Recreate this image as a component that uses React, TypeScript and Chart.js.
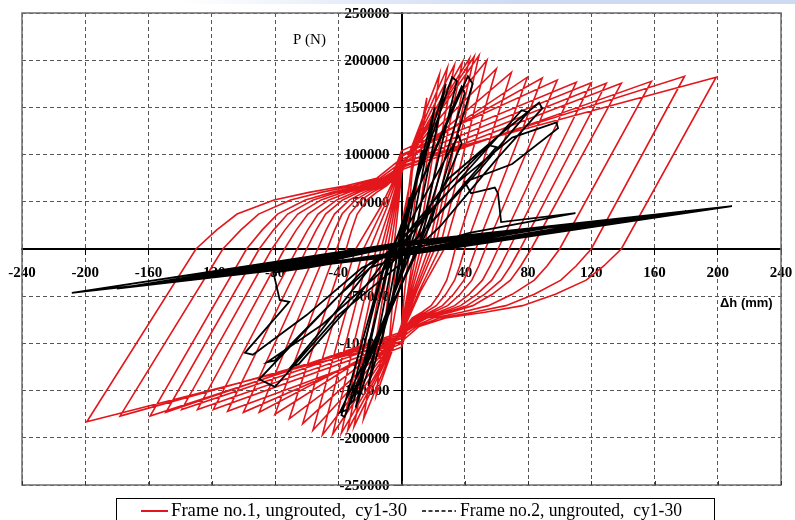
import React, { useEffect, useRef } from "react";
import { Chart, registerables } from "chart.js";

Chart.register(...registerables);

// ---- axis ticks & texts ----
const X_TICKS = [-240, -200, -160, -120, -80, -40, 0, 40, 80, 120, 160, 200, 240];
const Y_TICKS = [-250000, -200000, -150000, -100000, -50000, 0, 50000, 100000, 150000, 200000, 250000];
const Y_TITLE = "P (N)";
const X_TITLE = "Δh (mm)";
const LEGEND_1 = "Frame no.1, ungrouted,  cy1-30";
const LEGEND_2 = "Frame no.2, ungrouted,  cy1-30";

// ---- Frame no.1 (red) : displacement [mm], load [N] ----
const frame1: number[][] = [
  [0, 0], [8, 110000],
  [3, 0], [-8, -105000],
  [-3, 0], [16, 160000],
  [5, 0], [2, -45000], [0, -80000], [-16, -155000],
  [-5, 0], [-2, 45000], [0, 80000], [24, 185000],
  [8, 0], [4, -45000], [0, -82000], [-24, -180000],
  [-7, 0], [-3, 45000], [0, 82000], [29, 192000],
  [10, 0], [4.5, -45000], [0, -84000], [-30, -188000],
  [-9, 0], [-4, 45000], [0, 84000], [33.5, 195000],
  [12, 0], [5.5, -45000], [0, -85000], [-34, -192000],
  [-11, 0], [-5, 45000], [0, 85000], [38.5, 198000],
  [14, 0], [6.5, -45000], [0, -86000], [-38, -195000],
  [-13, 0], [-6, 45000], [0, 86000], [43, 202000],
  [17, 0], [7.5, -45000], [0, -87000], [-43.5, -196000],
  [-16, 0], [-7, 45000], [0, 87000], [46, 204000],
  [19, 0], [8.5, -45000], [0, -88000], [-50, -197000],
  [-20, 0], [-9, 45000], [0, 88000], [49, 205000],
  [21, 0], [9.5, -45000], [0, -89000], [-56, -192000],
  [-24, 0], [-11, 45000], [0, 89000], [54, 200000],
  [24, 0], [11, -45000], [0, -90000], [-62.5, -185000],
  [-29, 0], [-13, 45000], [0, 90000], [60, 191000],
  [27, 0], [12, -45000], [0, -90000], [-71, -180000],
  [-35, 0], [-31.5, 20000], [-28, 37000], [-21.7, 52000], [-15.8, 60000], [-9.5, 67000], [-4.2, 75000], [0, 88000], [69.5, 187000],
  [34, 0], [31.3, -18000], [28.6, -33000], [23.8, -48000], [18.7, -60000], [12.9, -67000], [6.8, -73000], [2.7, -82000], [0, -90000], [-80, -175000],
  [-41, 0], [-36.9, 20000], [-32.8, 37000], [-25.4, 52000], [-18.5, 60000], [-11.1, 67000], [-4.9, 75000], [0, 92000], [79.6, 182000],
  [40, 0], [36.8, -18000], [33.6, -33000], [28, -48000], [22, -60000], [15.2, -67000], [8, -73000], [3.2, -82000], [0, -94000], [-90, -173000],
  [-47, 0], [-42.3, 20000], [-37.6, 37000], [-29.1, 52000], [-21.2, 60000], [-12.7, 67000], [-5.6, 75000], [0, 98000], [89, 181000],
  [47, 0], [43.2, -18000], [39.5, -33000], [32.9, -48000], [25.9, -60000], [17.9, -67000], [9.4, -73000], [3.8, -82000], [0, -100000], [-100, -173000],
  [-53, 0], [-47.7, 20000], [-42.4, 37000], [-32.9, 52000], [-23.9, 60000], [-14.3, 67000], [-6.4, 75000], [0, 104000], [98.5, 179000],
  [53, 0], [48.8, -18000], [44.5, -33000], [37.1, -48000], [29.2, -60000], [20.1, -67000], [10.6, -73000], [4.2, -82000], [0, -104000], [-110, -172000],
  [-60, 0], [-54, 20000], [-48, 37000], [-37.2, 52000], [-27, 60000], [-16.2, 67000], [-7.2, 75000], [0, 100000], [110.5, 176500],
  [61, 0], [56.1, -18000], [51.2, -33000], [42.7, -48000], [33.6, -60000], [23.2, -67000], [12.2, -73000], [4.9, -82000], [0, -98000], [-119, -170000],
  [-66, 0], [-59.4, 20000], [-52.8, 37000], [-40.9, 52000], [-29.7, 60000], [-17.8, 67000], [-7.9, 75000], [0, 95000], [120, 176000],
  [68, 0], [62.6, -18000], [57.1, -33000], [47.6, -48000], [37.4, -60000], [25.8, -67000], [13.6, -73000], [5.4, -82000], [0, -95000], [-129, -170000],
  [-74, 0], [-66.6, 20000], [-59.2, 37000], [-45.9, 52000], [-33.3, 60000], [-20, 67000], [-8.9, 75000], [0, 90000], [129.5, 175500],
  [75, 0], [69, -18000], [63, -33000], [52.5, -48000], [41.3, -60000], [28.5, -67000], [15, -73000], [6, -82000], [0, -92000], [-139, -170000],
  [-82, 0], [-73.8, 20000], [-65.6, 37000], [-50.8, 52000], [-36.9, 60000], [-22.1, 67000], [-9.8, 75000], [0, 86000], [139, 175500],
  [82, 0], [75.4, -18000], [68.9, -33000], [57.4, -48000], [45.1, -60000], [31.2, -67000], [16.4, -73000], [6.6, -82000], [0, -88000], [-149, -173000],
  [-90, 0], [-81, 20000], [-72, 37000], [-55.8, 52000], [-40.5, 60000], [-24.3, 67000], [-10.8, 75000], [0, 84000], [158, 177600],
  [100, 0], [92, -18000], [84, -33000], [70, -48000], [55, -60000], [38, -67000], [20, -73000], [8, -82000], [0, -90000], [-159, -177000],
  [-98, 0], [-88.2, 20000], [-78.4, 37000], [-60.8, 52000], [-44.1, 60000], [-26.5, 67000], [-11.8, 75000], [0, 88000], [179, 183000],
  [120, 0], [110.4, -18000], [100.8, -33000], [84, -48000], [66, -60000], [45.6, -67000], [24, -73000], [9.6, -82000], [0, -94000], [-178, -177000],
  [-113, 0], [-101.7, 20000], [-90.4, 37000], [-70.1, 52000], [-50.9, 60000], [-30.5, 67000], [-13.6, 75000], [0, 92000], [199, 182000],
  [139, 0], [127.9, -18000], [116.8, -33000], [97.3, -48000], [76.5, -60000], [52.8, -67000], [27.8, -73000], [11.1, -82000], [0, -98000], [-199, -183000],
  [-130, 0], [-117, 20000], [-104, 37000], [-80.6, 52000], [-58.5, 60000], [-35.1, 67000], [-15.6, 75000], [0, 96000],
];

// ---- Frame no.2 (black) : displacement [mm], load [N] ----
const frame2: number[][] = [
  [0, 0], [5, 55000], [1, 5000], [-5, -50000], [-1, -5000],
  [13, 105000], [3, 10000], [-13, -100000], [-3, -10000],
  [21, 150000], [6, 15000], [-21, -145000], [-6, -15000],
  [28, 175000], [9, 20000], [-29, -168000], [-9, -18000],
  [32, 182000], [35, 178000], [14, 30000], [-36, -178000], [-38, -176000], [-12, -22000],
  [42, 183000], [45, 175000], [18, 25000], [-39, -173000], [-34, -170000], [-12, -25000],
  [38, 172000], [40, 165000], [10, 0], [-33, -165000], [-30, -160000], [-6, -5000],
  [36, 120000], [38, 112000], [15, 20000], [-30, -150000], [-25, -140000], [-10, -25000],
  [30, 75000], [65, 125000], [87, 155000], [89, 149000], [60, 95000], [25, 25000], [0, -15000],
  [-40, -70000], [-80, -146000], [-90, -138000], [-60, -85000], [-20, -15000], [0, 5000],
  [40, 80000], [76, 147000], [80, 145000], [50, 85000], [20, 30000], [0, -5000],
  [-50, -80000], [-85, -120000], [-80, -118000], [-40, -50000], [0, 10000],
  [25, 60000], [55, 110000], [60, 108000], [30, 50000], [0, -8000],
  [-20, -20000], [-55, -95000], [-70, -125000], [-65, -122000], [-30, -55000], [0, 10000],
  [35, 70000], [70, 118000], [98, 134000], [99, 128000], [70, 90000], [40, 71000], [44, 59000],
  [59, 65000], [61, 59000], [63, 28500], [110, 38000],
  [43, 17000], [0, -3000], [-60, -20000], [-81, -25000], [-77, -54000], [-71, -56000],
  [-99, -110000], [-94, -112000], [-60, -70000], [-25, -20000], [0, 0],
  [60, 16000], [0, -4000], [-60, -18000], [0, 4000],
  [75, 19000], [0, -3000], [-80, -22000], [0, 3000],
  [90, 22000], [0, -5000], [-95, -25000], [0, 5000],
  [105, 26000], [0, -4000], [-110, -28000], [0, 4000],
  [120, 28000], [0, -6000], [-125, -31000], [0, 6000],
  [135, 31000], [0, -5000], [-140, -34000], [0, 5000],
  [150, 34000], [0, -6000], [-150, -36000], [0, 6000],
  [165, 37000], [0, -6000], [-165, -39000], [0, 6000],
  [180, 40000], [0, -7000], [-180, -42000], [0, 7000],
  [209, 45500], [0, -7000], [-208.5, -46500], [-26.5, 0],
];

const RED = "#e3161c";
const BLACK = "#000000";
const SERIF = '"Liberation Serif", "Times New Roman", serif';

function toPoints(rows: number[][]) {
  return rows.map(([x, y]) => ({ x, y }));
}

export default function App() {
  const canvasRef = useRef<HTMLCanvasElement | null>(null);

  useEffect(() => {
    const canvas = canvasRef.current;
    if (!canvas) return;

    const decor = {
      id: "decor",
      beforeDraw(chart: any) {
        const { ctx, width } = chart;
        ctx.save();
        ctx.fillStyle = "#ffffff";
        ctx.fillRect(0, 0, chart.width, chart.height);
        const g = ctx.createLinearGradient(180, 0, 520, 0);
        g.addColorStop(0, "rgba(205,218,242,0)");
        g.addColorStop(1, "rgba(205,218,242,1)");
        ctx.fillStyle = g;
        ctx.fillRect(180, 0, width - 180, 4);
        ctx.restore();
      },
      beforeDatasetsDraw(chart: any) {
        // tick labels beside the centred axes (drawn under the data, as in the original)
        const { ctx } = chart;
        const xs = chart.scales.x;
        const ys = chart.scales.y;
        const ax = xs.getPixelForValue(0);
        const ay = ys.getPixelForValue(0);
        ctx.save();
        ctx.fillStyle = "#000";
        ctx.font = `bold 15px ${SERIF}`;
        ctx.textBaseline = "middle";
        ctx.textAlign = "right";
        for (const v of Y_TICKS) {
          if (v === 0) continue;
          ctx.fillText(String(v), ax - 12, ys.getPixelForValue(v) + 1);
        }
        ctx.textAlign = "center";
        for (const v of X_TICKS) {
          if (v === 0) continue;
          ctx.fillText(String(v), xs.getPixelForValue(v), ay + 24);
        }
        ctx.restore();
      },
      afterDraw(chart: any) {
        const { ctx, chartArea: a } = chart;
        ctx.save();
        // plot border
        ctx.strokeStyle = "#6e6e6e";
        ctx.lineWidth = 1.5;
        ctx.strokeRect(a.left, a.top, a.right - a.left, a.bottom - a.top);
        // small ticks on the bottom border
        const xs = chart.scales.x;
        ctx.strokeStyle = "#333";
        ctx.lineWidth = 1;
        for (const v of X_TICKS) {
          const px = Math.round(xs.getPixelForValue(v)) + 0.5;
          ctx.beginPath();
          ctx.moveTo(px, a.bottom);
          ctx.lineTo(px, a.bottom - 4);
          ctx.stroke();
        }
        // axis titles
        ctx.fillStyle = "#000";
        ctx.textAlign = "left";
        ctx.textBaseline = "alphabetic";
        ctx.font = `15px ${SERIF}`;
        ctx.fillText(Y_TITLE, 293, 44);
        ctx.font = 'bold 13px "Liberation Sans", Arial, sans-serif';
        ctx.fillText(X_TITLE, 720, 307);
        // legend box
        ctx.strokeStyle = "#000";
        ctx.lineWidth = 1;
        ctx.strokeRect(116.5, 498.5, 598, 40);
        ctx.strokeStyle = RED;
        ctx.lineWidth = 2;
        ctx.beginPath();
        ctx.moveTo(141, 511);
        ctx.lineTo(168, 511);
        ctx.stroke();
        ctx.strokeStyle = BLACK;
        ctx.lineWidth = 1.5;
        ctx.setLineDash([4, 2.5]);
        ctx.beginPath();
        ctx.moveTo(422, 511);
        ctx.lineTo(456, 511);
        ctx.stroke();
        ctx.setLineDash([]);
        ctx.fillStyle = "#000";
        ctx.font = `19px ${SERIF}`;
        const drawFit = (t: string, x: number, w: number) => {
          const m = ctx.measureText(t).width;
          ctx.save();
          ctx.translate(x, 516);
          ctx.scale(w / m, 1);
          ctx.fillText(t, 0, 0);
          ctx.restore();
        };
        drawFit(LEGEND_1, 171, 236);
        drawFit(LEGEND_2, 460, 222);
        ctx.restore();
      },
    };

    const chart = new Chart(canvas, {
      type: "scatter",
      data: {
        datasets: [
          {
            label: LEGEND_2,
            data: toPoints(frame2),
            showLine: true,
            borderColor: BLACK,
            backgroundColor: BLACK,
            borderWidth: 1.8,
            pointRadius: 0,
            tension: 0,
            order: 0,
          },
          {
            label: LEGEND_1,
            data: toPoints(frame1),
            showLine: true,
            borderColor: RED,
            backgroundColor: RED,
            borderWidth: 1.6,
            pointRadius: 0,
            tension: 0,
            order: 1,
          },
        ],
      },
      options: {
        responsive: false,
        animation: false,
        events: [],
        layout: { padding: { left: 22, right: 14, top: 13, bottom: 35 } },
        plugins: { legend: { display: false }, tooltip: { enabled: false } },
        scales: {
          x: {
            type: "linear",
            min: -240,
            max: 240,
            position: { y: 0 } as any,
            afterBuildTicks: (s: any) => {
              s.ticks = X_TICKS.map((v) => ({ value: v }));
            },
            ticks: { display: false },
            grid: {
              color: "#555",
              lineWidth: 1,
              tickLength: 5,
              tickColor: "#000",
              tickBorderDash: [],
            },
            border: { display: true, color: "#000", width: 2, dash: [4, 3] },
          },
          y: {
            type: "linear",
            min: -250000,
            max: 250000,
            position: { x: 0 } as any,
            afterBuildTicks: (s: any) => {
              s.ticks = Y_TICKS.map((v) => ({ value: v }));
            },
            ticks: { display: false },
            grid: {
              color: "#555",
              lineWidth: 1,
              tickLength: 7,
              tickColor: "#000",
              tickBorderDash: [],
            },
            border: { display: true, color: "#000", width: 2, dash: [4, 3] },
          },
        },
      },
      plugins: [decor],
    });

    return () => chart.destroy();
  }, []);

  return (
    <div style={{ position: "absolute", left: 0, top: 0, width: 795, height: 520, background: "#fff" }}>
      <canvas ref={canvasRef} width={795} height={520} style={{ display: "block" }} />
    </div>
  );
}
